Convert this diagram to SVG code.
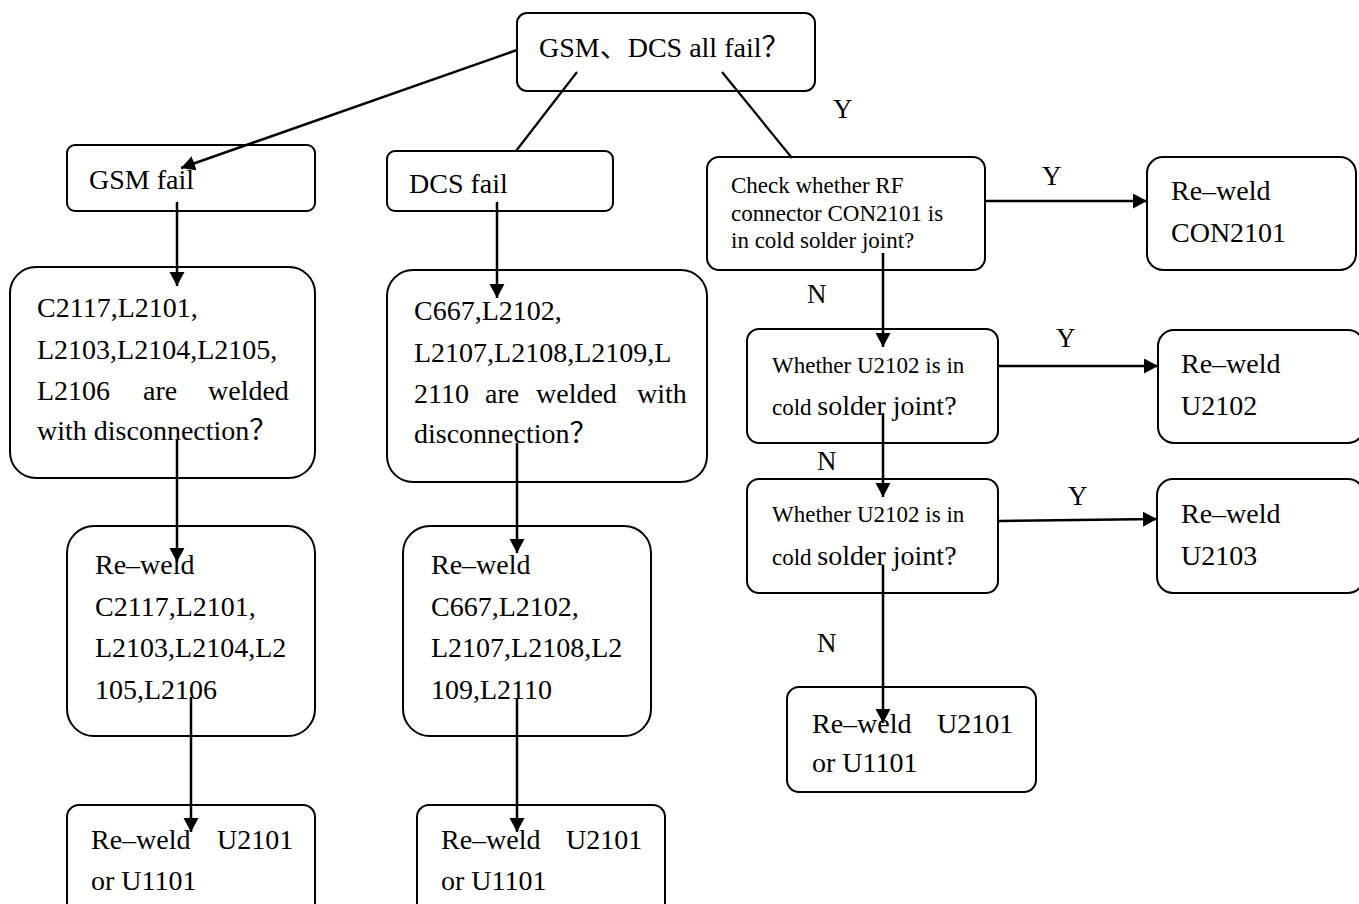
<svg xmlns="http://www.w3.org/2000/svg" width="1359" height="904" viewBox="0 0 1359 904">
  <style>
    .box { fill: #fff; stroke: #000; stroke-width: 2; }
    .t { font-family: "Liberation Serif", "Noto Sans CJK SC", serif; font-size: 28px; fill: #000; }
    .s { font-family: "Liberation Serif", "Noto Sans CJK SC", serif; font-size: 23px; fill: #000; }
    .lbl { font-family: "Liberation Serif", serif; font-size: 27px; fill: #000; }
    .ln { fill: none; stroke: #000; stroke-width: 2.2; }
    .ar { fill: none; stroke: #000; stroke-width: 2.5; marker-end: url(#head); }
  </style>
  <defs>
    <marker id="head" markerUnits="userSpaceOnUse" markerWidth="16" markerHeight="16" refX="14" refY="7.5" orient="auto">
      <path d="M0,0 L14,7.5 L0,15 z" fill="#000"/>
    </marker>
  </defs>
  <rect width="1359" height="904" fill="#fff"/>

  <!-- nodes -->
  <g id="n-all-fail">
    <rect class="box" x="517" y="13" width="298" height="78" rx="10"/>
    <text class="t" x="539" y="57">GSM、DCS all fail？</text>
  </g>

  <g id="n-gsm-fail">
    <rect class="box" x="67" y="145" width="248" height="66" rx="8"/>
    <text class="t" x="89" y="189">GSM fail</text>
  </g>

  <g id="n-dcs-fail">
    <rect class="box" x="387" y="151" width="226" height="60" rx="8"/>
    <text class="t" x="409" y="193">DCS fail</text>
  </g>

  <g id="n-check-con">
    <rect class="box" x="707" y="157" width="278" height="113" rx="12"/>
    <text class="s" x="731" y="193">Check whether RF</text>
    <text class="s" x="731" y="221">connector CON2101 is</text>
    <text class="s" x="731" y="248">in cold solder joint?</text>
  </g>

  <g id="n-reweld-con">
    <rect class="box" x="1147" y="157" width="209" height="113" rx="16"/>
    <text class="t" x="1171" y="200">Re–weld</text>
    <text class="t" x="1171" y="242">CON2101</text>
  </g>

  <g id="n-gsm-check">
    <rect class="box" x="10" y="267" width="305" height="211" rx="26"/>
    <text class="t" x="37" y="317">C2117,L2101,</text>
    <text class="t" x="37" y="359">L2103,L2104,L2105,</text>
    <text class="t" y="400"><tspan x="37">L2106</tspan><tspan x="143">are</tspan><tspan x="208">welded</tspan></text>
    <text class="t" x="37" y="440">with disconnection？</text>
  </g>

  <g id="n-dcs-check">
    <rect class="box" x="387" y="270" width="320" height="212" rx="26"/>
    <text class="t" x="414" y="320">C667,L2102,</text>
    <text class="t" x="414" y="362">L2107,L2108,L2109,L</text>
    <text class="t" y="403"><tspan x="414">2110</tspan><tspan x="485">are</tspan><tspan x="536">welded</tspan><tspan x="637">with</tspan></text>
    <text class="t" x="414" y="443">disconnection？</text>
  </g>

  <g id="n-u2102-check">
    <rect class="box" x="747" y="329" width="251" height="114" rx="12"/>
    <text class="s" x="772" y="373">Whether U2102 is in</text>
    <text x="772" y="415"><tspan class="s">cold </tspan><tspan class="t">solder joint?</tspan></text>
  </g>

  <g id="n-reweld-u2102">
    <rect class="box" x="1158" y="330" width="206" height="113" rx="16"/>
    <text class="t" x="1181" y="373">Re–weld</text>
    <text class="t" x="1181" y="415">U2102</text>
  </g>

  <g id="n-u2103-check">
    <rect class="box" x="747" y="479" width="251" height="114" rx="12"/>
    <text class="s" x="772" y="522">Whether U2102 is in</text>
    <text x="772" y="565"><tspan class="s">cold </tspan><tspan class="t">solder joint?</tspan></text>
  </g>

  <g id="n-reweld-u2103">
    <rect class="box" x="1157" y="479" width="207" height="114" rx="16"/>
    <text class="t" x="1181" y="523">Re–weld</text>
    <text class="t" x="1181" y="565">U2103</text>
  </g>

  <g id="n-gsm-reweld">
    <rect class="box" x="67" y="526" width="248" height="210" rx="27"/>
    <text class="t" x="95" y="574">Re–weld</text>
    <text class="t" x="95" y="616">C2117,L2101,</text>
    <text class="t" x="95" y="657">L2103,L2104,L2</text>
    <text class="t" x="95" y="699">105,L2106</text>
  </g>

  <g id="n-dcs-reweld">
    <rect class="box" x="403" y="526" width="248" height="210" rx="27"/>
    <text class="t" x="431" y="574">Re–weld</text>
    <text class="t" x="431" y="616">C667,L2102,</text>
    <text class="t" x="431" y="657">L2107,L2108,L2</text>
    <text class="t" x="431" y="699">109,L2110</text>
  </g>

  <g id="n-rf-final">
    <rect class="box" x="787" y="687" width="249" height="105" rx="12"/>
    <text class="t" y="733"><tspan x="812">Re–weld</tspan><tspan x="937">U2101</tspan></text>
    <text class="t" x="812" y="772">or U1101</text>
  </g>

  <g id="n-gsm-final">
    <rect class="box" x="67" y="805" width="248" height="110" rx="12"/>
    <text class="t" y="849"><tspan x="91">Re–weld</tspan><tspan x="217">U2101</tspan></text>
    <text class="t" x="91" y="890">or U1101</text>
  </g>

  <g id="n-dcs-final">
    <rect class="box" x="417" y="805" width="248" height="110" rx="12"/>
    <text class="t" y="849"><tspan x="441">Re–weld</tspan><tspan x="566">U2101</tspan></text>
    <text class="t" x="441" y="890">or U1101</text>
  </g>

  <!-- connectors -->
  <g id="connectors">
    <line class="ar" x1="517" y1="50" x2="181" y2="168"/>
    <line class="ln" x1="577" y1="72" x2="516" y2="151"/>
    <line class="ln" x1="722" y1="72" x2="792" y2="158"/>

    <line class="ar" x1="177" y1="202" x2="177" y2="286"/>
    <line class="ar" x1="497" y1="202" x2="497" y2="298"/>
    <line class="ar" x1="177" y1="440" x2="177" y2="562"/>
    <line class="ar" x1="517" y1="443" x2="517" y2="553"/>
    <line class="ar" x1="191" y1="697" x2="191" y2="832"/>
    <line class="ar" x1="517" y1="698" x2="517" y2="832"/>

    <line class="ar" x1="985" y1="201" x2="1147" y2="201"/>
    <line class="ar" x1="883" y1="253" x2="883" y2="347"/>
    <line class="ar" x1="998" y1="366" x2="1158" y2="366"/>
    <line class="ar" x1="883" y1="413" x2="883" y2="497"/>
    <line class="ar" x1="998" y1="521" x2="1157" y2="519"/>
    <line class="ar" x1="883" y1="565" x2="883" y2="723"/>

    <text class="lbl" x="833" y="118">Y</text>
    <text class="lbl" x="1042" y="185">Y</text>
    <text class="lbl" x="807" y="303">N</text>
    <text class="lbl" x="1056" y="347">Y</text>
    <text class="lbl" x="817" y="470">N</text>
    <text class="lbl" x="1068" y="505">Y</text>
    <text class="lbl" x="817" y="652">N</text>
  </g>
</svg>
